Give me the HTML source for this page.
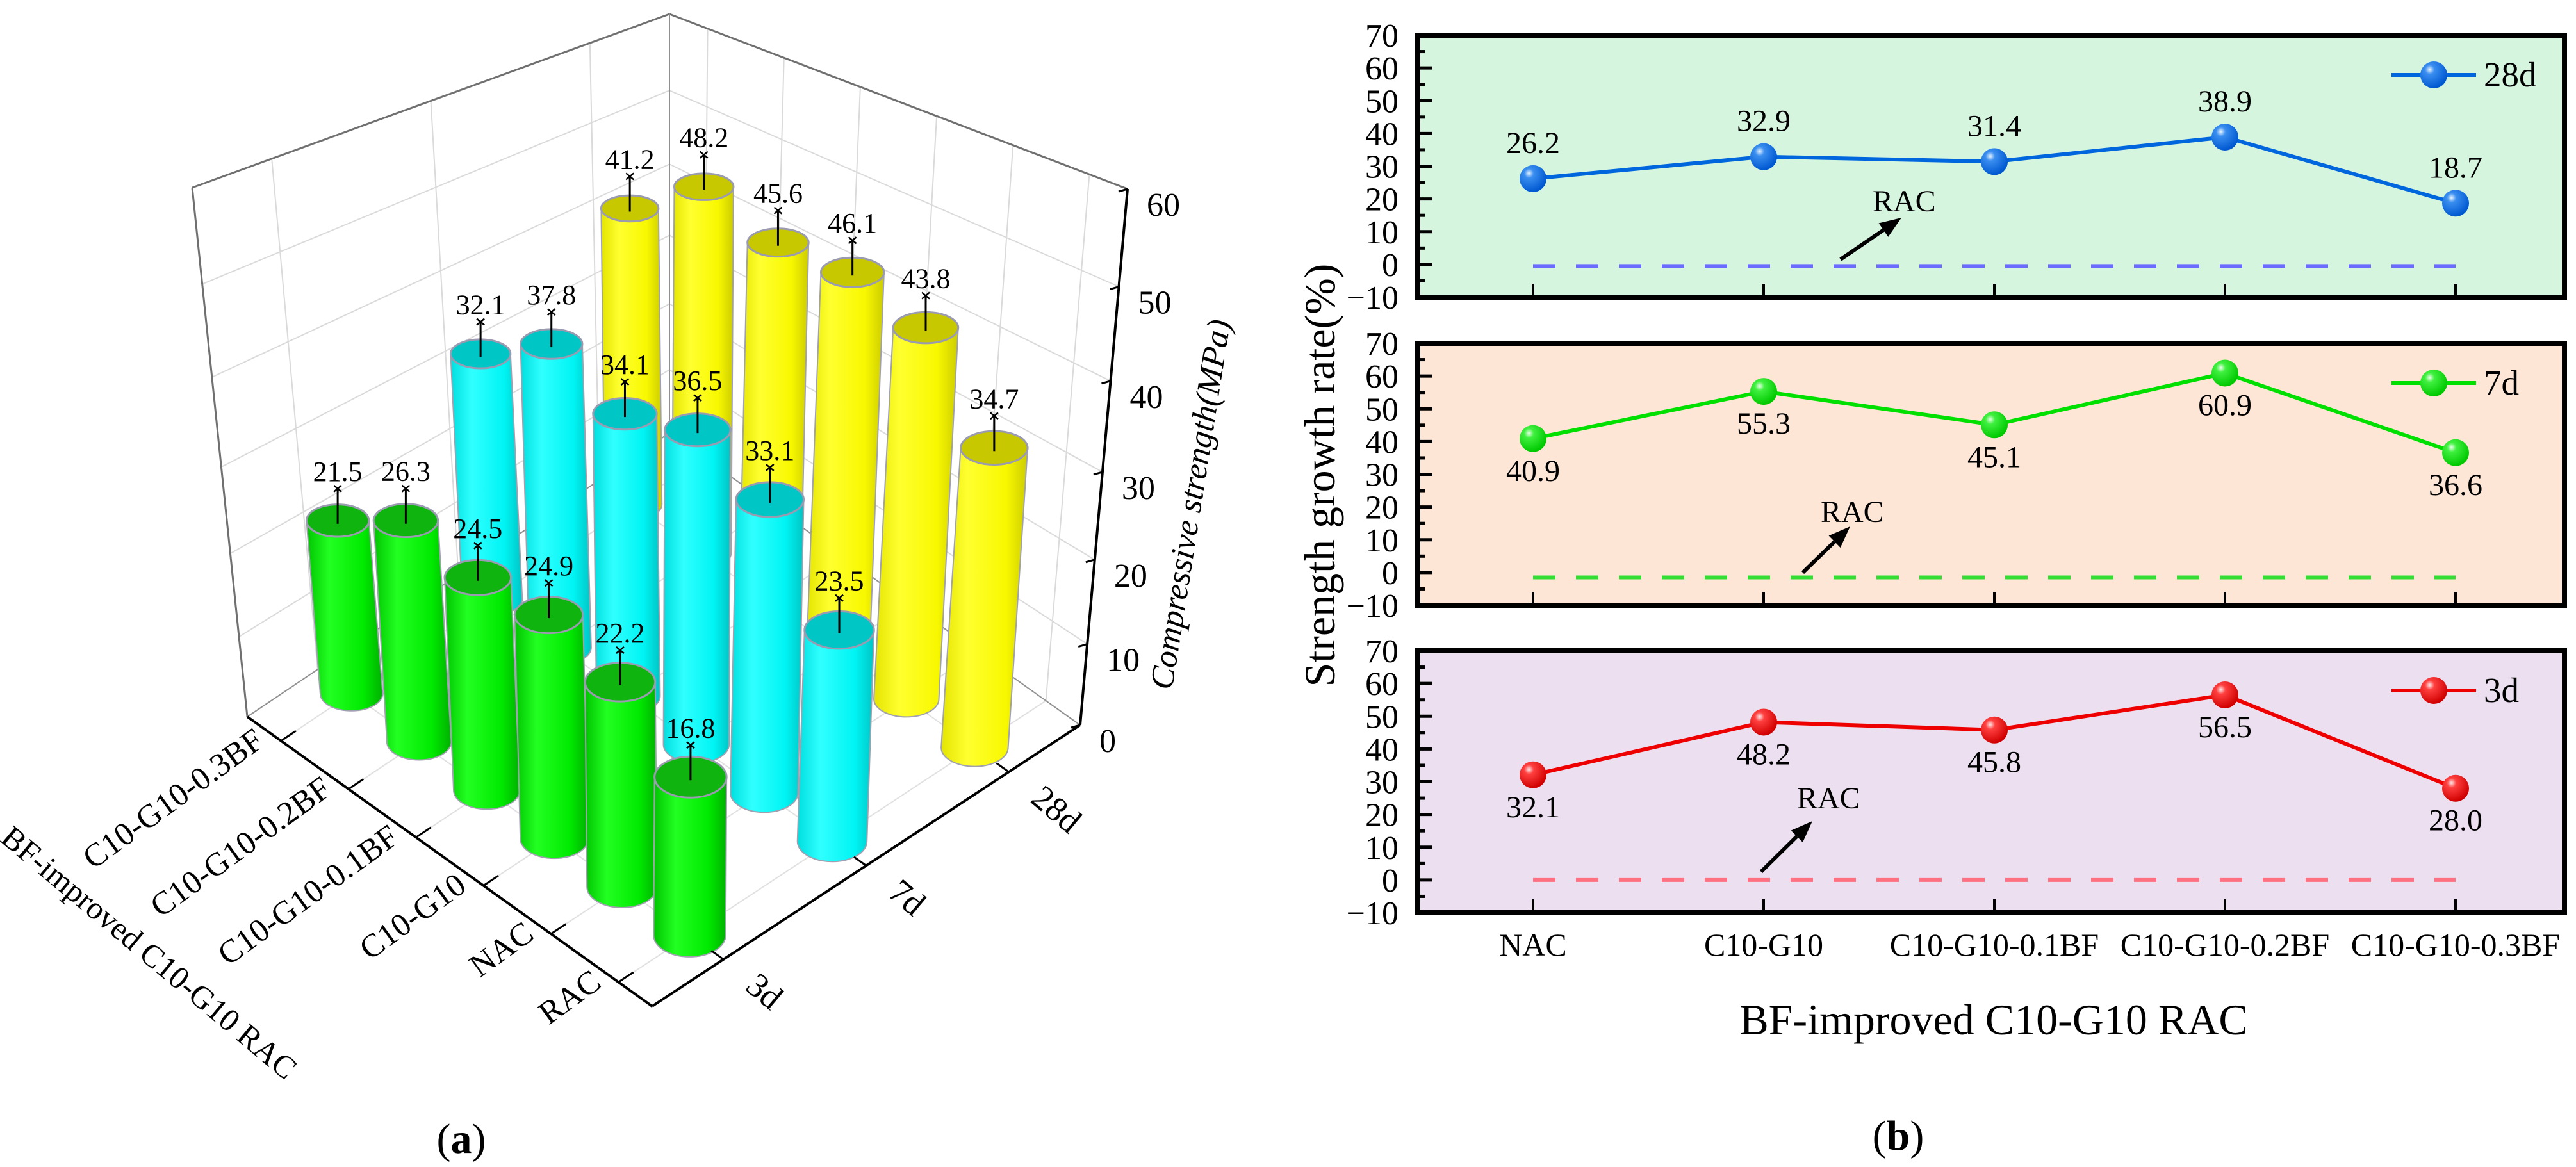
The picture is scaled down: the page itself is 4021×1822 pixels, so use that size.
<!DOCTYPE html>
<html><head><meta charset="utf-8">
<style>
html,body{margin:0;padding:0;background:#fff;}
svg{display:block;font-family:"Liberation Serif",serif;}
</style></head>
<body>
<svg id="fig" width="4021" height="1822" viewBox="0 0 4021 1822" xmlns="http://www.w3.org/2000/svg">
<defs>
  <linearGradient id="gG" x1="0" x2="1" y1="0" y2="0"><stop offset="0" stop-color="#00c400"/><stop offset="0.3" stop-color="#22ff22"/><stop offset="0.75" stop-color="#00ea00"/><stop offset="1" stop-color="#00b000"/></linearGradient>
  <linearGradient id="gC" x1="0" x2="1" y1="0" y2="0"><stop offset="0" stop-color="#00dede"/><stop offset="0.3" stop-color="#30ffff"/><stop offset="0.75" stop-color="#00f4f4"/><stop offset="1" stop-color="#00c4c4"/></linearGradient>
  <linearGradient id="gY" x1="0" x2="1" y1="0" y2="0"><stop offset="0" stop-color="#e4e400"/><stop offset="0.3" stop-color="#ffff30"/><stop offset="0.75" stop-color="#f8f800"/><stop offset="1" stop-color="#cccc00"/></linearGradient>
  <radialGradient id="sB" cx="0.35" cy="0.3" r="0.7"><stop offset="0" stop-color="#e8f4ff"/><stop offset="0.25" stop-color="#3a8ef0"/><stop offset="1" stop-color="#0058d0"/></radialGradient>
  <radialGradient id="sG" cx="0.35" cy="0.3" r="0.7"><stop offset="0" stop-color="#eaffea"/><stop offset="0.25" stop-color="#40f040"/><stop offset="1" stop-color="#00c800"/></radialGradient>
  <radialGradient id="sR" cx="0.35" cy="0.3" r="0.7"><stop offset="0" stop-color="#ffeaea"/><stop offset="0.25" stop-color="#ff4040"/><stop offset="1" stop-color="#d00000"/></radialGradient>
</defs>
<g id="left"></g>
<g id="right"></g>
</svg>
<script>
// ================= LEFT: 3D cylinder chart data =================
const categories3d = ["C10-G10-0.3BF","C10-G10-0.2BF","C10-G10-0.1BF","C10-G10","NAC","RAC"];
const ages3d = ["3d","7d","28d"];
const strength3d = [21.5, 26.3, 24.5, 24.9, 22.2, 16.8];
const strength7d = [32.1, 37.8, 34.1, 36.5, 33.1, 23.5];
const strength28d = [41.2, 48.2, 45.6, 46.1, 43.8, 34.7];
const zTicks = [0,10,20,30,40,50,60];

// ================= RIGHT: growth rate data =================
const categoriesB = ["NAC","C10-G10","C10-G10-0.1BF","C10-G10-0.2BF","C10-G10-0.3BF"];
const growth28d = [26.2, 32.9, 31.4, 38.9, 18.7];
const growth7d = [40.9, 55.3, 45.1, 60.9, 36.6];
const growth3d = [32.1, 48.2, 45.8, 56.5, 28.0];
const racBaseline = [-0.5, -1.5, 0];
const yTicksB = [-10,0,10,20,30,40,50,60,70];

const NS = "http://www.w3.org/2000/svg";
function mk(tag, attrs, parent, txt){
  const e = document.createElementNS(NS, tag);
  for (const k in attrs) e.setAttribute(k, attrs[k]);
  if (txt !== undefined) e.textContent = txt;
  parent.appendChild(e);
  return e;
}

const L=[386,1119], F=[1018,1571], R=[1686,1132], B=[1045,676];
const TL=[300,293], TF=[1018,570], TR=[1760,295], TB=[1045,22];
function bil(a,b,c,d,u,v){
  const wL=(1-u)*(1-v), wF=u*(1-v), wR=u*v, wB=(1-u)*v;
  return [a[0]*wL+b[0]*wF+c[0]*wR+d[0]*wB, a[1]*wL+b[1]*wF+c[1]*wR+d[1]*wB];
}
function zf(z){ const t=z/60; return 0.888*t+0.112*t*t; }
function P(u,v,z){
  const f=bil(L,F,R,B,u,v), t=bil(TL,TF,TR,TB,u,v), k=zf(z);
  return [f[0]+k*(t[0]-f[0]), f[1]+k*(t[1]-f[1])];
}
function uOf(i){ return (i+0.5)/categories3d.length; }
function vOf(j){ return (j+0.5)/ages3d.length; }

const left = document.getElementById('left');
const grid = mk('g',{},left);


function line(p,q,st,w,par,extra){ const a=Object.assign({x1:p[0],y1:p[1],x2:q[0],y2:q[1],stroke:st,'stroke-width':w},extra||{}); return mk('line',a,par); }
for (let k=1;k<zTicks.length-1;k++){
  const z=zTicks[k];
  line(P(0,0,z),P(0,1,z),'#dadada',2,grid);
  line(P(0,1,z),P(1,1,z),'#dadada',2,grid);
}
for (let j=0;j<ages3d.length;j++){
  line(P(0,vOf(j),0),P(0,vOf(j),60),'#dadada',2,grid);
  line(P(0,vOf(j),0),P(1,vOf(j),0),'#e0e0e0',2,grid);
}
for (let i=0;i<categories3d.length;i++){
  line(P(uOf(i),1,0),P(uOf(i),1,60),'#dadada',2,grid);
  line(P(uOf(i),0,0),P(uOf(i),1,0),'#e0e0e0',2,grid);
}
const box = mk('g',{},left);


line(TL,TB,'#707070',3,box); line(TB,TR,'#707070',3,box);
line(L,TL,'#707070',3,box); line(B,TB,'#909090',2,box);
line(L,B,'#909090',2,box); line(B,R,'#909090',2,box);

const series = [
  {vals:strength3d, grad:'url(#gG)', top:'#0fb40f', j:0, name:'3d'},
  {vals:strength7d, grad:'url(#gC)', top:'#00c6c6', j:1, name:'7d'},
  {vals:strength28d, grad:'url(#gY)', top:'#c8c800', j:2, name:'28d'}
];
const bars=[];
series.forEach(s=>{ s.vals.forEach((val,i)=>bars.push({s:s,i:i,val:val})); });
bars.sort((a,b)=> (uOf(a.i)-vOf(a.s.j)) - (uOf(b.i)-vOf(b.s.j)));
const barG = mk('g',{},left);


bars.forEach(b=>{
  const u=uOf(b.i), v=vOf(b.s.j);
  const p0=P(u,v,0), p1=P(u,v,b.val);
  const r=48+9*u-6*(v-1/6);
  const k0=0.45+0.00013*(p0[1]-300), k1=0.45+0.00013*(p1[1]-300);
  const ry0=r*k0, ry1=r*k1;
  const g=mk('g',{},barG);
  
  
  const d=`M${p1[0]-r},${p1[1]} L${p0[0]-r},${p0[1]} A${r},${ry0} 0 0 0 ${p0[0]+r},${p0[1]} L${p1[0]+r},${p1[1]} Z`;
  mk('path',{d:d,fill:b.s.grad,stroke:'#a0a0b0','stroke-width':2},g);
  mk('ellipse',{cx:p1[0],cy:p1[1],rx:r,ry:ry1,fill:b.s.top,stroke:'#9a9ab0','stroke-width':3},g);
  const ey=p1[1]-50;
  mk('line',{x1:p1[0],y1:p1[1]+5,x2:p1[0],y2:ey,stroke:'#000','stroke-width':3},g);
  mk('path',{d:`M${p1[0]-6},${ey-5} L${p1[0]+6},${ey+5} M${p1[0]-6},${ey+5} L${p1[0]+6},${ey-5}`,stroke:'#000','stroke-width':2.5},g);
  const t=mk('text',{x:p1[0],y:ey-12,'font-size':44,'text-anchor':'middle',fill:'#000'},g,b.val.toFixed(1));
  
  
});

const ax = mk('g',{},left);


line(L,F,'#000',4,ax); line(F,R,'#000',4,ax); line(R,TR,'#000',4,ax);
categories3d.forEach((c,i)=>{
  const p=P(uOf(i),0,0), q=P(uOf(i),0.035,0);
  line(p,q,'#000',3,ax);
  const x=p[0]-24, y=p[1]+6;
  const t=mk('text',{x:x,y:y,'font-size':51,'text-anchor':'end',transform:`rotate(-36 ${x} ${y})`},ax,c);
  
  
});
ages3d.forEach((a,j)=>{
  const p=P(1,vOf(j),0), q=P(0.97,vOf(j),0);
  line(p,q,'#000',3,ax);
  const x=p[0]+32, y=p[1]+46;
  const t=mk('text',{x:x,y:y,'font-size':54,transform:`rotate(40 ${x} ${y})`},ax,a);
  
  
});
zTicks.forEach(z=>{
  const p=P(1,1,z);
  line(p,[p[0]-14,p[1]+4],'#000',3,ax);
  const t=mk('text',{x:p[0]+30,y:p[1]+42,'font-size':52},ax,String(z));
  
  
});
const zt=mk('text',{x:1875,y:790,'font-size':52,'font-style':'italic','text-anchor':'middle',transform:'rotate(-81 1875 790)'},left,'Compressive strength(MPa)');


const ct=mk('text',{x:222,y:1500,'font-size':50,'text-anchor':'middle',transform:'rotate(40 222 1500)'},left,'BF-improved C10-G10 RAC');


const la=mk('text',{x:720,y:1800,'font-size':66,'text-anchor':'middle'},left,'');


mk('tspan',{},la,'(');mk('tspan',{'font-weight':'bold'},la,'a');mk('tspan',{},la,')');

// ================= RIGHT panels =================
const right = document.getElementById('right');
const X0=2213, X1=4003;
function xB(i){ return 2393 + 360*i; }
const panels = [
  {top:55, bg:'#d5f5df', vals:growth28d, color:'#0066dd', grad:'url(#sB)', dash:'#6b6bff', name:'28d', above:true, rac:racBaseline[0], racText:[2923,330], arrow:[2873,405,2968,340]},
  {top:536, bg:'#fde6d6', vals:growth7d, color:'#00e000', grad:'url(#sG)', dash:'#33dd33', name:'7d', above:false, rac:racBaseline[1], racText:[2842,815], arrow:[2814,894,2888,822]},
  {top:1016, bg:'#ebdff0', vals:growth3d, color:'#ee0000', grad:'url(#sR)', dash:'#ff7080', name:'3d', above:false, rac:racBaseline[2], racText:[2805,1262], arrow:[2749,1361,2829,1282]}
];
panels.forEach(p=>{
  const sy = v => p.top + (70 - v) * (409/80);
  const g=mk('g',{},right);
  
  
  mk('rect',{x:X0,y:p.top,width:X1-X0,height:409,fill:p.bg},g);
  for (let v=-10; v<=70; v+=5){
    const major = v%10===0;
    line([X0,sy(v)],[X0+(major?23:11),sy(v)],'#000',5,g);
  }
  categoriesB.forEach((c,i)=>line([xB(i),p.top+409],[xB(i),p.top+388],'#000',4,g));
  yTicksB.forEach(v=>{
    const t=mk('text',{x:2183,y:sy(v)+18,'font-size':52,'text-anchor':'end'},g,(v<0?'\u2212':'')+Math.abs(v));
    
    
  });
  mk('rect',{x:X0,y:p.top,width:X1-X0,height:409,fill:'none',stroke:'#000','stroke-width':8},g);
  const dl=line([xB(0),sy(p.rac)],[xB(categoriesB.length-1),sy(p.rac)],p.dash,6,g,{'stroke-dasharray':'35 32'});
  
  
  const rt=mk('text',{x:p.racText[0],y:p.racText[1],'font-size':48},g,'RAC');
  
  
  const [ax1,ay1,ax2,ay2]=p.arrow;
  const dx=ax2-ax1, dy=ay2-ay1, len=Math.hypot(dx,dy), ux=dx/len, uy=dy/len;
  const hl=34, hw=13;
  const bx=ax2-ux*hl, by=ay2-uy*hl;
  const ar=mk('g',{},g);
  
  
  mk('line',{x1:ax1,y1:ay1,x2:bx,y2:by,stroke:'#000','stroke-width':6},ar);
  mk('polygon',{points:`${ax2},${ay2} ${bx-uy*hw},${by+ux*hw} ${bx+uy*hw},${by-ux*hw}`,fill:'#000'},ar);
  const pts=p.vals.map((v,i)=>xB(i)+','+sy(v)).join(' ');
  const pl=mk('polyline',{points:pts,fill:'none',stroke:p.color,'stroke-width':6},g);
  
  
  p.vals.forEach((v,i)=>{
    const c=mk('circle',{cx:xB(i),cy:sy(v),r:21,fill:p.grad},g);
    
    
    const t=mk('text',{x:xB(i),y:sy(v)+(p.above?-40:66),'font-size':48,'text-anchor':'middle'},g,v.toFixed(1));
    
    
  });
  const ly=p.top+62;
  const lg=mk('g',{},g);
  
  
  line([3733,ly],[3865,ly],p.color,6,lg);
  mk('circle',{cx:3799,cy:ly,r:21,fill:p.grad},lg);
  mk('text',{x:3877,y:ly+18,'font-size':55},lg,p.name);
});
categoriesB.forEach((c,i)=>{
  const t=mk('text',{x:xB(i),y:1492,'font-size':50,'text-anchor':'middle'},right,c);
  
  
});
const xt=mk('text',{x:3112,y:1615,'font-size':68,'text-anchor':'middle'},right,'BF-improved C10-G10 RAC');


const yt=mk('text',{x:2083,y:742,'font-size':68,'text-anchor':'middle',transform:'rotate(-90 2083 742)'},right,'Strength growth rate(%)');


const lb=mk('text',{x:2963,y:1795,'font-size':66,'text-anchor':'middle'},right,'');


mk('tspan',{},lb,'(');mk('tspan',{'font-weight':'bold'},lb,'b');mk('tspan',{},lb,')');
</script>
</body></html>
